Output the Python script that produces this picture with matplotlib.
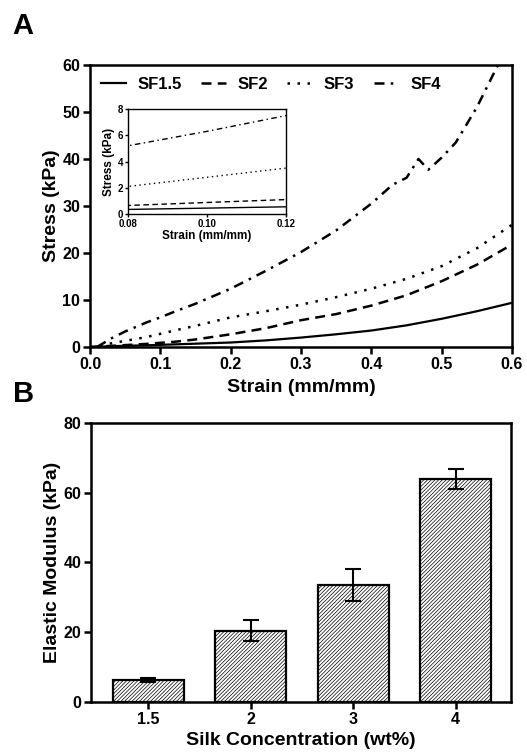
import matplotlib
matplotlib.use('Agg')
import matplotlib.pyplot as plt

plt.rcParams['font.family'] = ['Liberation Sans', 'DejaVu Sans']
plt.rcParams['font.weight'] = 'bold'
plt.rcParams['hatch.linewidth'] = 0.5

# Courbes contrainte / déformation (panneau A)
strain = [0, 0.02, 0.05, 0.08, 0.10, 0.12, 0.15, 0.20, 0.25, 0.30,
          0.35, 0.40, 0.45, 0.50, 0.55, 0.60]
sf15 = [0, 0.1, 0.25, 0.35, 0.45, 0.55, 0.7, 0.95, 1.4, 2.0,
        2.7, 3.5, 4.6, 6.0, 7.6, 9.4]
sf2 = [0, 0.15, 0.4, 0.65, 0.88, 1.1, 1.6, 2.7, 4.0, 5.7,
       7.0, 8.8, 11.0, 14.0, 17.5, 21.8]
sf3 = [0, 0.5, 1.3, 2.1, 2.8, 3.5, 4.5, 6.3, 7.6, 9.0,
       10.6, 12.4, 14.5, 17.2, 21.0, 26.0]
strain4 = [0.01, 0.03, 0.05, 0.08, 0.10, 0.12, 0.15, 0.20, 0.25, 0.30, 0.35,
           0.40, 0.43, 0.45, 0.467, 0.481, 0.50, 0.52, 0.55, 0.58, 0.60]
sf4 = [0, 1.8, 3.3, 5.2, 6.3, 7.5, 9.2, 12.4, 16.2, 20.2, 24.8,
       30.5, 34.5, 36.0, 40.0, 37.7, 40.3, 43.5, 51.0, 60.0, 65.0]

# Module élastique (panneau B)
conc = ['1.5', '2', '3', '4']
modulus = [6.3, 20.5, 33.5, 64.0]
modulus_err = [0.6, 3.1, 4.5, 2.9]

fig = plt.figure(figsize=(5.27, 7.52), dpi=100)

# ---- Panneau A
ax = fig.add_axes([0.1708, 0.5386, 0.8008, 0.375])
ax.plot(strain, sf15, color='black', lw=1.6, ls='-', label='SF1.5')
ax.plot(strain, sf2, color='black', lw=1.8, ls=(0, (4, 2.5)), label='SF2')
ax.plot(strain, sf3, color='black', lw=1.8, ls=(0, (1, 3)), label='SF3')
ax.plot(strain4, sf4, color='black', lw=1.8, ls=(0, (4, 2.5, 1, 2.5)), label='SF4')
ax.set_xlim(0, 0.6)
ax.set_ylim(0, 60)
ax.set_xticks([0, 0.1, 0.2, 0.3, 0.4, 0.5, 0.6])
ax.set_xticklabels(['0.0', '0.1', '0.2', '0.3', '0.4', '0.5', '0.6'])
ax.set_yticks([0, 10, 20, 30, 40, 50, 60])
ax.set_xlabel('Strain (mm/mm)', fontsize=14, fontweight='bold', labelpad=5)
ax.set_ylabel('Stress (kPa)', fontsize=14, fontweight='bold', labelpad=2)
for s in ax.spines.values():
    s.set_linewidth(1.8)
ax.tick_params(direction='out', length=5, width=1.8, labelsize=11.5, pad=2)
ax.legend(ncol=4, loc='upper left', bbox_to_anchor=(-0.01, 1.01), frameon=False,
          fontsize=12, handlelength=1.5, columnspacing=1.15, handletextpad=0.7)

# Encart
axi = fig.add_axes([0.2429, 0.7154, 0.2998, 0.1396])
axi.plot(strain, sf15, color='black', lw=1.0, ls='-')
axi.plot(strain, sf2, color='black', lw=1.0, ls=(0, (4, 2.5)))
axi.plot(strain, sf3, color='black', lw=1.0, ls=(0, (1, 2.5)))
axi.plot(strain4, sf4, color='black', lw=1.0, ls=(0, (4, 2.5, 1, 2.5)))
axi.set_xlim(0.08, 0.12)
axi.set_ylim(0, 8)
axi.set_xticks([0.08, 0.10, 0.12])
axi.set_xticklabels(['0.08', '0.10', '0.12'])
axi.set_yticks([0, 2, 4, 6, 8])
axi.set_xlabel('Strain (mm/mm)', fontsize=8.5, fontweight='bold', labelpad=1)
axi.set_ylabel('Stress (kPa)', fontsize=8.5, fontweight='bold', labelpad=2)
for s in axi.spines.values():
    s.set_linewidth(1.0)
axi.tick_params(direction='out', length=2.5, width=1.0, labelsize=7, pad=1)

# ---- Panneau B
axb = fig.add_axes([0.1727, 0.0665, 0.797, 0.371])
xpos = range(len(conc))
axb.bar(xpos, modulus, width=0.69, color='white', edgecolor='black',
        linewidth=1.6, hatch='/////////')
axb.errorbar(xpos, modulus, yerr=modulus_err, fmt='none', ecolor='black',
             elinewidth=1.5, capsize=6, capthick=1.5)
axb.set_xlim(-0.56, 3.54)
axb.set_ylim(0, 80)
axb.set_xticks(list(xpos))
axb.set_xticklabels(conc)
axb.set_yticks([0, 20, 40, 60, 80])
axb.set_xlabel('Silk Concentration (wt%)', fontsize=14, fontweight='bold', labelpad=4)
axb.set_ylabel('Elastic Modulus (kPa)', fontsize=14, fontweight='bold', labelpad=2)
for s in axb.spines.values():
    s.set_linewidth(1.8)
axb.tick_params(direction='out', length=5, width=1.8, labelsize=11.5, pad=2)

fig.text(0.024, 0.965, 'A', fontsize=21, fontweight='bold', va='center', ha='left')
fig.text(0.024, 0.476, 'B', fontsize=21, fontweight='bold', va='center', ha='left')

fig.savefig('out.png', dpi=100)
